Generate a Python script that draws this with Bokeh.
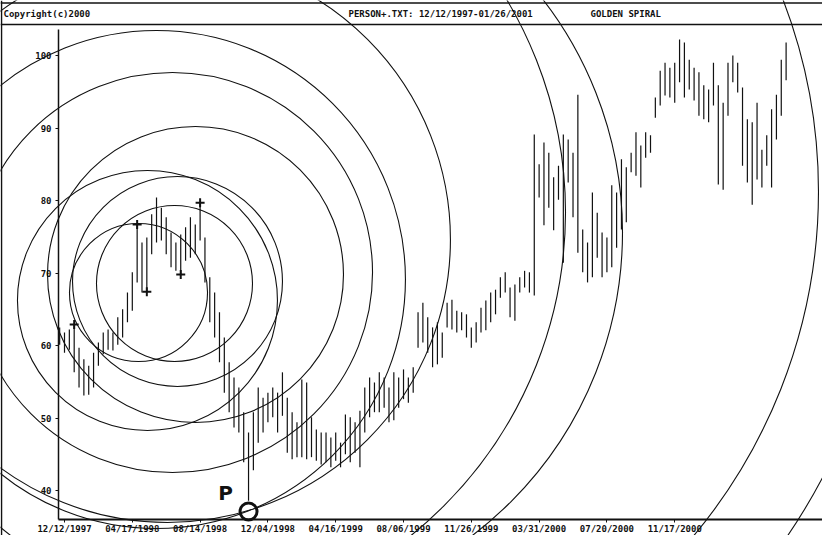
from bokeh.plotting import figure
from bokeh.models import Range1d, LinearAxis, FixedTicker, Span, Grid
from bokeh.core.properties import value
from bokeh.embed import file_html
from bokeh.resources import INLINE

# ---------------- data ----------------
highs = [62.5, 61.8, 62.2, 62.9, 59.7, 58.1, 57.2, 59.0, 60.4, 61.8,
         62.2, 61.8, 63.9, 65.0, 67.3, 70.1, 76.7, 74.2, 74.9, 78.1,
         80.4, 79.0, 77.7, 75.6, 74.2, 75.3, 76.3, 77.7, 76.7, 79.7,
         74.9, 69.4, 67.3, 64.6, 61.1, 57.7, 55.6, 54.2, 50.8, 48.0,
         50.8, 54.2, 52.8, 53.5, 54.2, 53.5, 56.3, 52.8, 50.8, 49.4,
         55.3, 54.9, 50.1, 48.4, 48.0, 48.0, 47.3, 48.0, 46.6, 50.5,
         50.1, 49.4, 51.0, 54.2, 55.6, 54.9, 56.3, 55.6, 54.2, 56.3,
         55.6, 56.7, 55.6, 57.0, 64.6, 65.9, 63.9, 62.5, 63.2, 61.8,
         65.9, 66.3, 64.8, 64.6, 64.3, 62.5, 63.2, 65.2, 66.2, 67.3,
         67.7, 69.4, 70.1, 68.0, 68.4, 69.4, 70.3, 70.1, 89.1, 85.0,
         88.0, 86.6, 83.2, 84.8, 89.1, 88.4, 86.6, 94.6, 76.0, 74.2,
         81.1, 78.3, 75.6, 74.9, 82.1, 81.1, 85.7, 84.6, 86.6, 89.4,
         87.6, 89.4, 89.0, 94.2, 97.9, 99.0, 98.3, 99.0, 102.2, 101.8,
         99.4, 98.3, 97.7, 95.9, 95.3, 99.0, 95.9, 93.5, 99.0, 100.0,
         99.0, 95.6, 91.2, 90.8, 93.5, 87.0, 89.0, 92.6, 94.6, 99.4,
         101.8]
lows = [60.1, 59.0, 59.4, 56.3, 54.2, 53.1, 53.2, 54.2, 57.2, 58.8,
        59.4, 59.3, 60.1, 61.1, 63.2, 64.8, 68.7, 67.3, 67.4, 72.6,
        74.2, 74.5, 72.6, 70.8, 70.3, 69.8, 71.7, 72.1, 72.6, 74.5,
        68.7, 63.2, 61.1, 57.7, 53.5, 50.8, 48.7, 48.0, 43.9, 38.6,
        42.8, 46.6, 48.0, 49.4, 50.1, 48.0, 50.3, 45.2, 44.3, 44.6,
        44.6, 44.3, 44.6, 44.1, 43.6, 43.9, 43.2, 44.1, 43.2, 45.0,
        43.9, 45.2, 43.2, 48.0, 50.1, 50.8, 50.8, 51.4, 49.4, 49.7,
        51.4, 52.6, 52.1, 53.5, 59.7, 60.4, 59.0, 57.0, 57.4, 58.3,
        62.5, 62.2, 61.8, 62.1, 61.1, 59.7, 60.4, 61.8, 62.1, 63.2,
        64.3, 66.6, 67.3, 63.9, 63.4, 67.3, 68.0, 67.3, 66.9, 80.4,
        76.6, 79.0, 75.9, 80.1, 71.4, 82.5, 77.7, 72.8, 70.1, 68.7,
        69.4, 72.1, 69.4, 70.1, 70.8, 73.5, 76.0, 77.0, 83.9, 83.4,
        81.8, 85.9, 86.6, 91.4, 93.1, 94.5, 94.2, 93.5, 96.3, 94.2,
        95.3, 93.8, 91.7, 91.2, 90.8, 93.1, 82.2, 81.5, 91.7, 96.3,
        94.9, 84.8, 82.5, 79.4, 82.9, 81.8, 84.8, 81.8, 88.4, 91.7,
        96.6]
bars = list(range(len(highs)))

tick_bars = [1, 15, 29, 43, 57, 71, 85, 99, 113, 127]
tick_labels = ["12/12/1997", "04/17/1998", "08/14/1998", "12/04/1998",
               "04/16/1999", "08/06/1999", "11/26/1999", "03/31/2000",
               "07/20/2000", "11/17/2000"]
price_ticks = [40, 50, 60, 70, 80, 90, 100]

pivot_bars = [3, 16, 18, 25, 29]
pivot_prices = [62.9, 76.7, 67.4, 69.8, 79.7]
p_bar = [39]
p_price = [37.1]

# golden spiral circles: centre (bar, price) and radius in price units
circle_bar = [23.71, 16.28, 24.33, 18.13, 28.05, 23.30, 19.99, 22.26, 18.76, 37.55, 45.80, 45.80]
circle_price = [68.55, 67.31, 68.83, 66.21, 69.79, 70.07, 69.10, 74.62, 78.34, 75.59, 81.24, 81.24]
circle_radius = [10.76, 9.52, 14.48, 17.93, 20.41, 27.59, 34.34, 39.03, 57.24, 52.55, 74.07, 84.41]

header_texts = ["Copyright(c)2000", "PERSON+.TXT: 12/12/1997-01/26/2001", "GOLDEN SPIRAL"]

# ---------------- layout ----------------
W, H = 822, 535
BAR_PX = 4.843      # pixels per bar
PRICE_PX = 7.25     # pixels per price unit
X0 = 59.16          # canvas x of bar 0
Y40 = 490.0         # canvas y of price 40


def bx(page_x):
    return (page_x - 8 - X0) / BAR_PX


def pv(page_y):
    return 40 + (Y40 - (page_y - 8)) / PRICE_PX


x_start = bx(8)
x_end = x_start + W / BAR_PX
y_top = pv(8)
y_bot = y_top - H / PRICE_PX

p = figure(width=W, height=H, output_backend="svg", toolbar_location=None,
           x_axis_location=None, y_axis_location=None,
           x_range=Range1d(x_start, x_end), y_range=Range1d(y_bot, y_top),
           min_border=0, min_border_left=0, min_border_right=0,
           min_border_top=0, min_border_bottom=0)
p.center = [r for r in p.center if not isinstance(r, Grid)]
p.outline_line_color = None
p.background_fill_color = "white"
p.border_fill_color = "white"

ink = "#111111"
mono = value("DejaVu Sans Mono")

# frame lines
p.add_layout(Span(location=bx(9), dimension="height", line_color=ink, line_width=1.5))
p.add_layout(Span(location=pv(10.5), dimension="width", line_color=ink, line_width=1.5))
p.add_layout(Span(location=pv(32), dimension="width", line_color=ink, line_width=1.5))

# header
p.text(x=[bx(11), bx(356), bx(598)], y=[pv(21)] * 3, text=header_texts,
       text_font=mono, text_font_style="bold", text_font_size="9px",
       text_baseline="middle", text_align="left", text_color=ink)

# spiral circles
p.circle(x=circle_bar, y=circle_price, radius=circle_radius, radius_dimension="y",
         fill_color=None, line_color=ink, line_width=1.1)

# price bars
p.segment(x0=bars, y0=lows, x1=bars, y1=highs, line_color=ink, line_width=1.2)

# pivots
p.scatter(x=pivot_bars, y=pivot_prices, marker="cross", size=9, line_color=ink, line_width=2)
p.scatter(x=p_bar, y=p_price, marker="circle", size=17, fill_color=None,
          line_color=ink, line_width=3)
p.text(x=p_bar, y=p_price, text=["P"], x_offset=-23, y_offset=-19,
       text_font=value("DejaVu Sans"), text_font_style="bold", text_font_size="20px",
       text_align="center", text_baseline="middle", text_color=ink)

# axes
xaxis = LinearAxis(fixed_location=pv(527), ticker=FixedTicker(ticks=tick_bars),
                   major_label_overrides={b: l for b, l in zip(tick_bars, tick_labels)},
                   bounds=(bx(66), x_end))
yaxis = LinearAxis(fixed_location=bx(66), ticker=FixedTicker(ticks=price_ticks),
                   bounds=(pv(527), pv(37)))
for ax in (xaxis, yaxis):
    ax.axis_line_color = ink
    ax.major_tick_line_color = ink
    ax.major_tick_in = 0
    ax.major_tick_out = 3
    ax.minor_tick_line_color = None
    ax.major_label_text_font = "DejaVu Sans Mono"
    ax.major_label_text_font_style = "bold"
    ax.major_label_text_font_size = "9px"
    ax.major_label_text_color = ink
xaxis.axis_line_width = 2
yaxis.axis_line_width = 1.5
xaxis.major_label_standoff = 1
yaxis.major_label_standoff = 4
p.add_layout(xaxis, "below")
p.add_layout(yaxis, "left")

open("out.html", "w").write(file_html(p, INLINE))
